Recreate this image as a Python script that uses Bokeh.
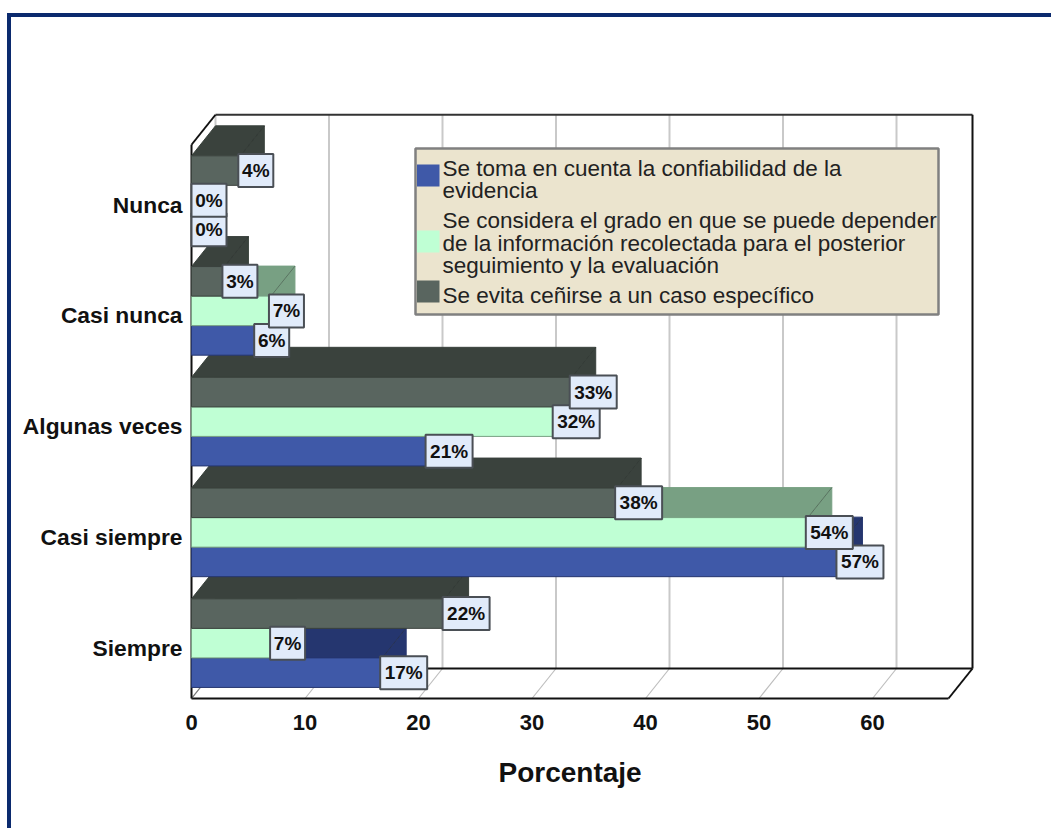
from bokeh.plotting import figure
from bokeh.embed import file_html
from bokeh.resources import INLINE
from bokeh.core.properties import value
from bokeh.models import FixedTicker, Title, InlineStyleSheet

categories = ["Siempre", "Casi siempre", "Algunas veces", "Casi nunca", "Nunca"]
confiabilidad = [16.8, 57.0, 20.8, 5.7, 0.0]
dependencia = [7.1, 54.3, 32.0, 7.0, 0.0]
especifico = [22.3, 37.5, 33.5, 2.9, 4.3]
etiquetas = {
    "blue": ["17%", "57%", "21%", "6%", "0%"],
    "green": ["7%", "54%", "32%", "7%", "0%"],
    "dark": ["22%", "38%", "33%", "3%", "4%"],
}
x_ticks = [0, 10, 20, 30, 40, 50, 60]
legend_entries = [
    ("blue", ["Se toma en cuenta la confiabilidad de la", "evidencia"]),
    ("green", ["Se considera el grado en que se puede depender", "de la información recolectada para el posterior", "seguimiento y la evaluación"]),
    ("dark", ["Se evita ceñirse a un caso específico"]),
]
series = [("blue", confiabilidad), ("green", dependencia), ("dark", especifico)]
front = {"blue": "#3f59a8", "green": "#bfffd4", "dark": "#59655f"}
top = {"blue": "#25366f", "green": "#78a083", "dark": "#3a423d"}

PX_X = 11.35   # px per unit on x
PX_Y = 110.75  # px per band on y
DX = 24 / PX_X
DY = 30 / PX_Y
BAR_H = 0.8 / 3
X_MAX_FRONT = (948 - 191) / PX_X
Y_MAX_FRONT = 5.0
FONT = "Liberation Sans"

p = figure(width=1051, height=828, output_backend="svg", toolbar_location=None,
           x_range=(-5 / PX_X, 784 / PX_X), y_range=(-2 / PX_Y, 586 / PX_Y),
           min_border_left=186, min_border_right=76, min_border_top=112, min_border_bottom=128,
           outline_line_color=None, background_fill_color="white")
p.grid.visible = False

# outer border (open on the right, running off the bottom of the page)
p.stylesheets = [InlineStyleSheet(css=""":host::after{content:'';position:absolute;left:7px;top:13px;right:0;bottom:0;
border-top:4px solid #0b2a6e;border-left:4px solid #0b2a6e;pointer-events:none}""")]

# axes
p.xaxis.ticker = FixedTicker(ticks=x_ticks)
p.xaxis.axis_line_color = None
p.xaxis.major_tick_line_color = None
p.xaxis.minor_tick_line_color = None
p.xaxis.major_tick_out = 0
p.xaxis.major_label_text_font = FONT
p.xaxis.major_label_text_font_style = "bold"
p.xaxis.major_label_text_font_size = "22px"
p.xaxis.major_label_text_color = "#111111"
p.xaxis.major_label_standoff = 14

p.yaxis.ticker = FixedTicker(ticks=[i + 0.46 for i in range(len(categories))])
p.yaxis.major_label_overrides = {i + 0.46: c for i, c in enumerate(categories)}
p.yaxis.axis_line_color = None
p.yaxis.major_tick_line_color = None
p.yaxis.minor_tick_line_color = None
p.yaxis.major_tick_out = 0
p.yaxis.major_label_text_font = FONT
p.yaxis.major_label_text_font_style = "bold"
p.yaxis.major_label_text_font_size = "22.8px"
p.yaxis.major_label_text_color = "#111111"
p.yaxis.major_label_standoff = 4

# back wall gridlines and floor lines
for t in x_ticks:
    p.line([t + DX, t + DX], [DY, Y_MAX_FRONT + DY], line_color="#c9c9c9", line_width=2)
    p.line([t, t + DX], [0, DY], line_color="#bdbdbd", line_width=1.2)

# frame of the 3D box
BK = "#111111"
p.line([DX, X_MAX_FRONT + DX], [Y_MAX_FRONT + DY] * 2, line_color="#333333", line_width=2)
p.line([X_MAX_FRONT + DX] * 2, [DY, Y_MAX_FRONT + DY], line_color=BK, line_width=2)
p.line([DX, X_MAX_FRONT + DX], [DY, DY], line_color=BK, line_width=2)
p.line([0, X_MAX_FRONT], [0, 0], line_color=BK, line_width=2)
p.line([X_MAX_FRONT, X_MAX_FRONT + DX], [0, DY], line_color=BK, line_width=2)
p.line([0, DX], [Y_MAX_FRONT, Y_MAX_FRONT + DY], line_color=BK, line_width=2)
p.line([0, DX], [0, DY], line_color="#777777", line_width=1.2)
p.line([0, 0], [0, Y_MAX_FRONT], line_color=BK, line_width=2)

# bars, bottom band first; within a band blue, then green, then dark
for i in range(len(categories)):
    for j, (name, vals) in enumerate(series):
        v = vals[i]
        if v <= 0:
            continue
        y0 = i + 0.1 + j * BAR_H
        y1 = y0 + BAR_H
        p.patch([v, v + DX, v + DX, v], [y0, y0 + DY, y1 + DY, y1],
                fill_color=top[name], line_color=top[name], line_width=1)
        p.patch([0, v, v + DX, DX], [y1, y1, y1 + DY, y1 + DY],
                fill_color=top[name], line_color=top[name], line_width=1)
        p.line([v, v + DX], [y1, y1 + DY], line_color="#2b302d", line_width=0.8, line_alpha=0.5)
        p.quad(left=0, right=v, bottom=y0, top=y1, fill_color=front[name],
               line_color=top[name], line_width=1)

# value labels
SHIFT = -2 / PX_X
for i in range(len(categories)):
    for j, (name, vals) in enumerate(series):
        txt = etiquetas[name][i]
        v = max(vals[i] + SHIFT, 0)
        w = (47 if len(txt) == 3 else 35) / PX_X
        yc = i + 0.1 + (j + 0.5) * BAR_H
        hh = 16.5 / PX_Y
        p.quad(left=v, right=v + w, bottom=yc - hh, top=yc + hh, fill_color="#e1ebfa",
               line_color="#4a4f55", line_width=2)
        p.text([v + w / 2], [yc], text=[txt], text_font=value(FONT), text_font_style="bold",
               text_font_size="19px", text_color="#111111", text_align="center", text_baseline="middle")

# legend
LX0, LX1 = (415 - 191) / PX_X, (938 - 191) / PX_X
LY0, LY1 = (698 - 314) / PX_Y, (698 - 148) / PX_Y
p.quad(left=LX0, right=LX1, bottom=LY0, top=LY1, fill_color="#ebe4ce", line_color="#808080", line_width=2.5)
line_y = [167, 189, 219, 242, 264, 294]
swatch_y = [175, 241, 291]
n = 0
for k, (name, lines) in enumerate(legend_entries):
    sy = (698 - swatch_y[k]) / PX_Y
    p.quad(left=LX0 + 1.5 / PX_X, right=LX0 + 24 / PX_X, bottom=sy - 11 / PX_Y, top=sy + 11 / PX_Y,
           fill_color=front[name], line_color=None)
    for ln in lines:
        p.text([LX0 + 27 / PX_X], [(697 - line_y[n]) / PX_Y], text=[ln], text_font=value(FONT),
               text_font_size="22.5px", text_color="#222222", text_align="left", text_baseline="middle")
        n += 1

# axis title
p.add_layout(Title(text="Porcentaje", align="left", offset=312, standoff=45, text_font=FONT,
                   text_font_style="bold", text_font_size="28px", text_color="#111111"), "below")

open("out.html", "w").write(file_html(p, INLINE))
